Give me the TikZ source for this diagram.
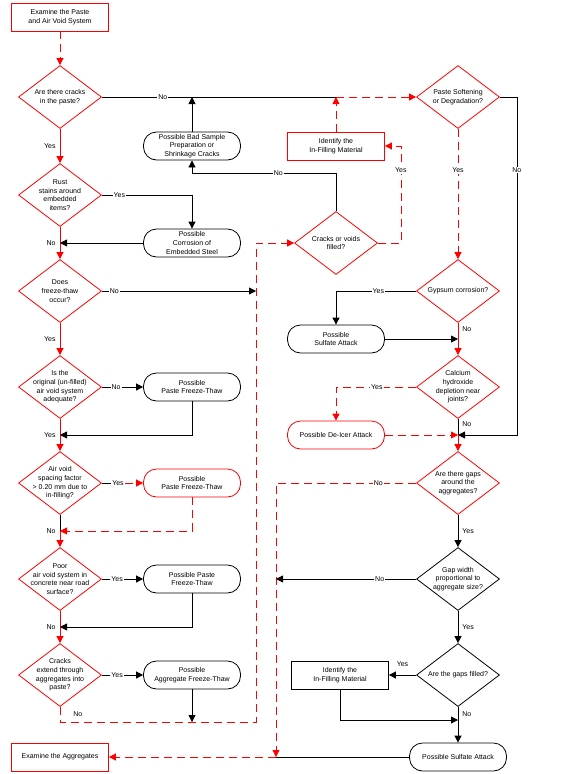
\documentclass[tikz,border=0pt]{standalone}
\usepackage{fontspec}
\setmainfont{Liberation Sans}
\usetikzlibrary{arrows.meta,shapes.geometric,calc}
\tikzset{
  txt/.style={align=center,font=\fontsize{7}{8.7}\selectfont},
  decision/.style={diamond,draw,minimum width=83pt,minimum height=63pt,inner sep=0pt},
  rdecision/.style={decision,draw=red},
  outcome/.style={txt,draw,rounded corners=13pt,minimum width=97pt,minimum height=28pt,inner sep=0pt},
  routcome/.style={outcome,draw=red},
  task/.style={txt,draw,minimum width=97pt,minimum height=28pt,inner sep=0pt},
  rtask/.style={task,draw=red},
  lbl/.style={font=\fontsize{7}{8}\selectfont,text=black,fill=white,inner sep=1pt},
  arr/.style={-{Triangle[length=7pt,width=7pt]}},
  rdash/.style={red,dash pattern=on 8pt off 5pt},
}
\begin{document}
\begin{tikzpicture}[x=1pt,y=-1pt,line width=0.8pt]
\useasboundingbox (0,0) rectangle (566,774);
% left column
\node[rtask] (paste) at (60,17) {Examine the Paste\\and Air Void System};
\node[rdecision,label={[txt]center:{Are there cracks\\in the paste?}}] (cracks) at (60,97) {};
\node[rdecision,label={[txt]center:{Rust\\stains around\\embedded\\items?}}] (rust) at (60,195) {};
\node[rdecision,label={[txt]center:{Does\\freeze-thaw\\occur?}}] (freeze) at (60,291) {};
\node[rdecision,label={[txt]center:{Is the\\original (un-filled)\\air void system\\adequate?}}] (original) at (60,387) {};
\node[rdecision,label={[txt]center:{Air void\\spacing factor\\> 0.20 mm due to\\in-filling?}}] (spacing) at (60,483) {};
\node[rdecision,label={[txt]center:{Poor\\air void system in\\concrete near road\\surface?}}] (poor) at (60,579) {};
\node[rdecision,label={[txt]center:{Cracks\\extend through\\aggregates into\\paste?}}] (aggcrack) at (60,675) {};
\node[rtask] (examagg) at (60,757) {Examine the Aggregates};
\node[outcome] (badsample) at (192,146) {Possible Bad Sample\\Preparation or\\Shrinkage Cracks};
\node[outcome] (corrosion) at (192,243) {Possible\\Corrosion of\\Embedded Steel};
\node[outcome] (pastefta) at (192,387) {Possible\\Paste Freeze-Thaw};
\node[routcome] (pasteftb) at (192,483) {Possible\\Paste Freeze-Thaw};
\node[outcome] (pasteftc) at (192,579) {Possible Paste\\Freeze-Thaw};
\node[outcome] (aggft) at (192,675) {Possible\\Aggregate Freeze-Thaw};
% middle and right column
\node[rtask] (identa) at (336,146) {Identify the\\In-Filling Material};
\node[rdecision,label={[txt]center:{Cracks or voids\\filled?}}] (voids) at (336,243) {};
\node[outcome] (sulfatea) at (336,339) {Possible\\Sulfate Attack};
\node[routcome] (deicer) at (336,435) {Possible De-Icer Attack};
\node[task] (identb) at (340,675) {Identify the\\In-Filling Material};
\node[rdecision,label={[txt]center:{Paste Softening\\or Degradation?}}] (softening) at (458,97) {};
\node[rdecision,label={[txt]center:{Gypsum corrosion?}}] (gypsum) at (458,291) {};
\node[rdecision,label={[txt]center:{Calcium\\hydroxide\\depletion near\\joints?}}] (calcium) at (458,387) {};
\node[rdecision,label={[txt]center:{Are there gaps\\around the\\aggregates?}}] (gaps) at (458,483) {};
\node[decision,label={[txt]center:{Gap width\\proportional to\\aggregate size?}}] (gapwidth) at (458,579) {};
\node[decision,label={[txt]center:{Are the gaps filled?}}] (filled) at (458,675) {};
\node[outcome] (sulfateb) at (458,757) {Possible Sulfate Attack};
% junctions
\coordinate (top) at (336,97);
\coordinate (loopl) at (256,722);
\coordinate (loopr) at (276,757);
\coordinate (jcal) at (458,435);
\coordinate (jfill) at (458,720);
\coordinate (m4) at ($(original.south)!.5!(spacing.north)$);
\coordinate (m5) at ($(spacing.south)!.5!(poor.north)$);
\coordinate (m6) at ($(poor.south)!.5!(aggcrack.north)$);
% left spine
\draw[rdash,arr] (paste) -- (cracks);
\draw (cracks.east) -- node[lbl,pos=.26]{No} (top);
\draw[rdash,arr] (top) -- (softening);
\draw[red,arr] (cracks) -- node[lbl,left=3pt]{Yes} (rust);
\draw[red,arr] (rust) -- node[lbl,left=3pt]{No} (freeze);
\draw[red,arr] (freeze) -- node[lbl,left=3pt]{Yes} (original);
\draw[red,arr] (original) -- node[lbl,left=3pt]{Yes} (spacing);
\draw (spacing.south) -- node[lbl,left=3pt,pos=1]{No} (m5);
\draw[red,arr] (m5) -- (poor);
\draw[red,arr] (poor) -- node[lbl,left=3pt]{No} (aggcrack);
% left branches
\draw[arr] (badsample) -- (badsample.north |- top);
\draw[arr] (rust.east) -| node[lbl,pos=.097]{Yes} (corrosion.north);
\draw[arr] (corrosion.west) -- (corrosion.west -| rust.south);
\draw[arr] (freeze.east) -- node[lbl,pos=.08]{No} (freeze.east -| loopl);
\draw[arr] (original.east) -- node[lbl,pos=.345]{No} (pastefta);
\draw[arr] (pastefta.south) |- (m4);
\draw (spacing.east) -- ++(9,0) node[lbl,anchor=west] (yes5) {Yes};
\draw[rdash,arr] (yes5.east) -- (pasteftb.west);
\draw[rdash,arr] (pasteftb.south) |- (m5);
\draw[arr] (poor.east) -- node[lbl,pos=.37]{Yes} (pasteftc);
\draw[arr] (pasteftc.south) |- node[lbl,left=3pt,pos=1]{No} (m6);
\draw[arr] (aggcrack.east) -- node[lbl,pos=.37]{Yes} (aggft);
\draw[arr] (aggft.south) -- (aggft.south |- loopl);
\draw[rdash,arr] (aggcrack.south) |- node[lbl,pos=.25,right=12pt,fill=none]{No} (loopl) |- (voids.west);
% middle
\draw[arr] (voids.north) -- ++(0,-38) -| node[lbl,pos=.2]{No} (badsample.south);
\draw[rdash,arr] (voids.east) -- ++(23,0) |- node[lbl,pos=.376]{Yes} (identa.east);
\draw[rdash,arr] (identa) -- (top);
% right column
\draw[rdash,arr] (softening) -- node[lbl,pos=.32]{Yes} (gypsum);
\draw[arr] (softening.east) -- ++(17,0) |- node[lbl,pos=.108]{No} (jcal);
\draw[arr] (gypsum.west) -| node[lbl,pos=.236]{Yes} (sulfatea.north);
\draw[arr] (sulfatea.east) -- (sulfatea.east -| gypsum.south);
\draw[red,arr] (gypsum) -- node[lbl,right=3pt,pos=.2]{No} (calcium);
\draw[rdash,arr] (calcium.west) -| node[lbl,pos=.245]{Yes} (deicer.north);
\draw[rdash,arr] (deicer.east) -- (jcal);
\draw (calcium.south) -- node[lbl,right=3pt,pos=.3]{No} (jcal);
\draw[red,arr] (jcal) -- (gaps);
\draw[rdash,arr] (gaps.west) -| node[lbl,pos=.135]{No} (loopr);
\draw[rdash,arr] (loopr) -- (examagg);
\draw[arr] (gaps) -- node[lbl,right=3pt]{Yes} (gapwidth);
\draw[arr] (gapwidth.west) -- node[lbl,pos=.26]{No} (gapwidth.west -| loopr);
\draw[arr] (gapwidth) -- node[lbl,right=3pt]{Yes} (filled);
\draw[arr] (filled) -- node[lbl,above=7pt]{Yes} (identb);
\draw[arr] (identb.south) |- (jfill);
\draw[arr] (filled) -- node[lbl,right=3pt,pos=.2]{No} (sulfateb);
\draw (sulfateb.west) -- (loopr);
\end{tikzpicture}
\end{document}
